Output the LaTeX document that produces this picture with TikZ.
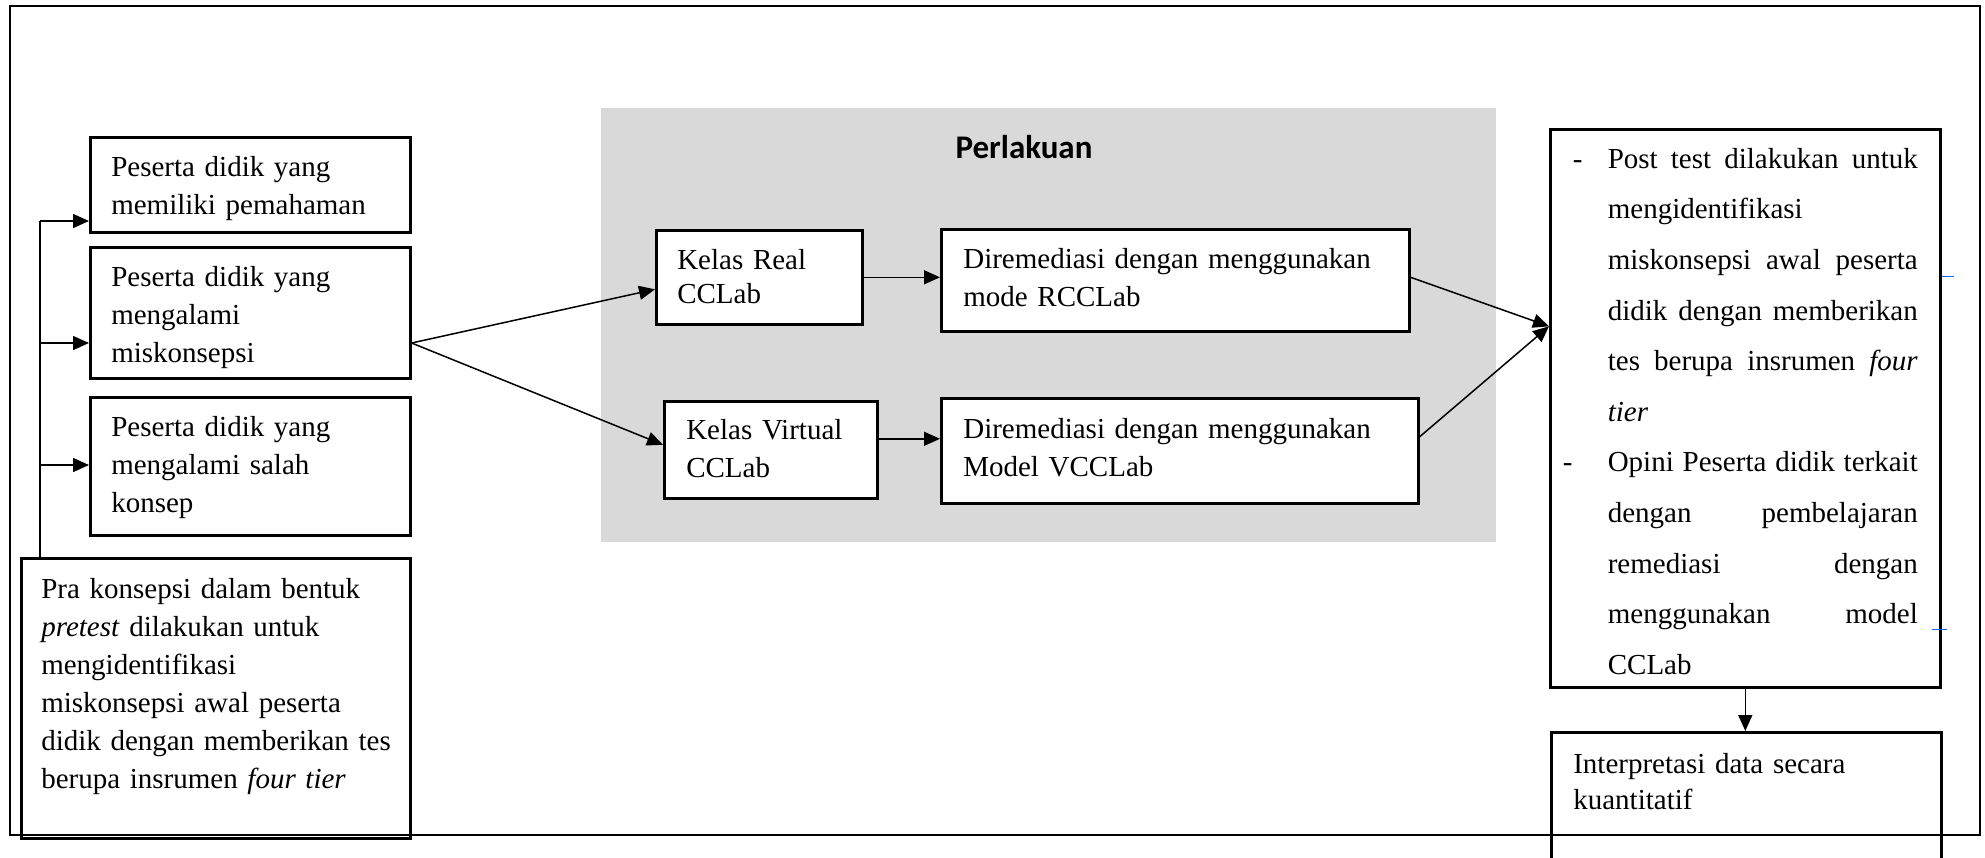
\documentclass[tikz,border=0pt]{standalone}
\usepackage{fontspec}
\setmainfont{Liberation Serif}
\newfontfamily\headfont{Carlito}
\usetikzlibrary{arrows.meta}

\begin{document}
\begin{tikzpicture}[x=1pt, y=-1pt,
    box/.style={draw, line width=2.6pt, anchor=north west, align=left, inner ysep=0pt,
      font=\fontsize{29}{38}\selectfont},
    inbox/.style={box, fill=white},
    arr/.style={line width=1.5pt, -{Triangle[length=16pt, width=14pt]}}]
  \useasboundingbox (0,0) rectangle (1985,857);

  % Outer frame and shaded treatment area
  \draw[line width=2.6pt] (10,6) rectangle (1980,835);
  \fill[black!15] (601,108) rectangle (1496,542);
  \node[anchor=base, font=\headfont\bfseries\fontsize{33}{40}\selectfont] (title) at (1024,158) {Perlakuan};

  % Left column: student groups
  \node[box, inner xsep=21pt, text width=278pt, text height=39pt, text depth=56pt] (b1) at (89,136)
    {Peserta didik yang\\ memiliki pemahaman};
  \node[box, inner xsep=21pt, text width=278pt, text height=39pt, text depth=92pt] (b2) at (89,246)
    {Peserta didik yang\\ mengalami\\ miskonsepsi};
  \node[box, inner xsep=21pt, text width=278pt, text height=39pt, text depth=99pt] (b3) at (89,396)
    {Peserta didik yang\\ mengalami salah\\ konsep};
  \node[box, inner xsep=20pt, text width=349pt, text height=40pt, text depth=240pt] (pra) at (20,557)
    {Pra konsepsi dalam bentuk\\ \textit{pretest} dilakukan untuk\\ mengidentifikasi\\
     miskonsepsi awal peserta\\ \mbox{didik dengan memberikan tes}\\ berupa insrumen \textit{four tier}};

  % Treatment classes
  \node[inbox, inner xsep=21pt, text width=164pt, text height=39pt, text depth=55pt,
    font=\fontsize{29}{34}\selectfont] (kr) at (655,229) {Kelas Real\\ CCLab};
  \node[inbox, inner xsep=22pt, text width=424pt, text height=39pt, text depth=63pt] (dr) at (940,228)
    {Diremediasi dengan menggunakan\\ mode RCCLab};
  \node[inbox, inner xsep=22pt, text width=169pt, text height=38pt, text depth=59pt] (kv) at (663,400)
    {Kelas Virtual\\ CCLab};
  \node[inbox, inner xsep=22pt, text width=433pt, text height=40pt, text depth=65pt] (dv) at (940,397)
    {Diremediasi dengan menggunakan\\ Model VCCLab};

  % Right column: post test and interpretation
  \node[box, align=justify, inner xsep=22.5pt, text width=345pt, text height=39pt, text depth=519pt,
    font=\fontsize{29}{50.6}\selectfont] (post) at (1549,128)
    {\tolerance=10000\parindent=0pt
     \hangindent=35pt\hangafter=1\noindent\makebox[35pt][l]{-}Post test dilakukan untuk\linebreak
     mengidentifikasi\newline miskonsepsi awal peserta\linebreak didik dengan memberikan\linebreak
     tes berupa insrumen \textit{four}\linebreak \textit{tier}\par
     \hangindent=35pt\hangafter=1\noindent\makebox[35pt][l]{\hspace*{-10pt}-}Opini Peserta didik terkait\linebreak
     dengan pembelajaran\linebreak remediasi dengan\linebreak menggunakan model\linebreak CCLab\par};
  \node[box, inner xsep=22pt, text width=346pt, text height=41pt, text depth=98pt,
    font=\fontsize{29}{36}\selectfont] (interp) at (1550,731)
    {Interpretasi data secara\\ kuantitatif};

  % Branch line on the left
  \coordinate (j1) at (40,221);
  \coordinate (j2) at (40,343);
  \coordinate (j3) at (40,465);
  \draw[line width=1.5pt] (j1) -- (j1 |- pra.north);
  \draw[arr] (j1) -- (j1 -| b1.west);
  \draw[arr] (j2) -- (j2 -| b2.west);
  \draw[arr] (j3) -- (j3 -| b3.west);

  % Connectors
  \coordinate (hub) at ([yshift=82pt]post.west);
  \draw[arr] (j2 -| b2.east) -- ([yshift=-12pt]kr.west);
  \draw[arr] (j2 -| b2.east) -- ([yshift=5pt]kv.west);
  \draw[arr] (kr.east) -- (kr.east -| dr.west);
  \draw[arr] ([yshift=11pt]kv.east) -- ([yshift=11pt]kv.east -| dv.west);
  \draw[arr] ([yshift=3pt]dr.east) -- (hub);
  \draw[arr] ([yshift=14pt]dv.east) -- (hub);
  \draw[arr] (post.south) -- (post.south |- interp.north);

  % Small blue marks at the right edge
  \draw[blue!60!cyan, line width=1pt] (1942,276) -- (1954,276);
  \draw[blue!60!cyan, line width=1pt] (1932,629) -- (1947,629);
\end{tikzpicture}
\end{document}
